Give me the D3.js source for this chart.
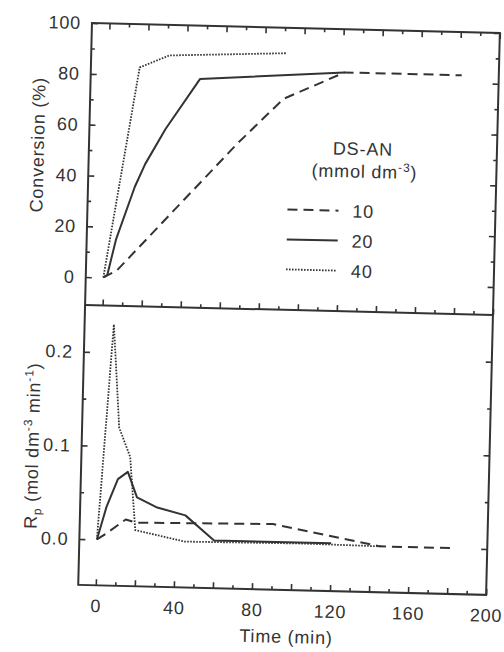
<!DOCTYPE html>
<html><head><meta charset="utf-8">
<script src="https://cdn.jsdelivr.net/npm/d3@7"></script>
<style>
body{margin:0;background:#fff}
svg{display:block}
text{font-family:"Liberation Sans",Arial,Helvetica,sans-serif;fill:#333;letter-spacing:0.8px}
</style>
</head><body>
<svg id="c" width="504" height="652"></svg>
<script>
// ---- data (time in min) ----
const seriesNames = ["10", "20", "40"];          // DS-AN (mmol dm-3)
const legendTitle = "DS-AN";
const conv10Time = [0, 7, 67, 90, 121, 181];
const conv10     = [0, 3, 54, 72, 83, 83];
const conv20Time = [0, 2, 6, 15, 20, 30, 47, 121];
const conv20     = [0, 1, 15, 36, 45, 59, 79, 83];
const conv40Time = [0, 16, 31, 91];
const conv40     = [0, 83, 88, 90];
const rp10Time = [0, 5, 14.5, 20, 90, 145, 181];
const rp10     = [0, 0.007, 0.022, 0.019, 0.021, 0, 0];
const rp20Time = [0, 4.5, 10, 15, 20, 30, 45, 60, 120];
const rp20     = [0, 0.035, 0.065, 0.073, 0.046, 0.036, 0.028, 0.002, 0.002];
const rp40Time = [0, 6, 10, 16, 19.5, 45, 106, 146];
const rp40     = [0, 0.23, 0.12, 0.089, 0.011, 0, 0.001, 0];
const xTicks = [0, 20, 40, 60, 80, 100, 120, 140, 160, 180, 200];
const xMinor = [10, 30, 50, 70, 90, 110, 130, 150, 170, 190];
const xLabels = [0, 40, 80, 120, 160, 200];
const convTicks = [0, 20, 40, 60, 80, 100];
const convMinor = [10, 30, 50, 70, 90];
const rpTicks = [0, 0.1, 0.2];
const rpMinor = [0.05, 0.15];

// ---- layout ----
const L = 85, R = 493, T = 27, M = 309, B = 589;
const ink = "#333";
const svg = d3.select("#c");
const g = svg.append("g").attr("transform", "rotate(1.4 250 310)");

const x = d3.scaleLinear().domain([-9, 200]).range([L, R]);
const yC = d3.scaleLinear().domain([-11, 100]).range([M, T]);
const yR = d3.scaleLinear().domain([-0.049, 0.25]).range([B, M]);

function styleAxis(sel) {
  sel.select(".domain").remove();
  sel.attr("font-family", null).attr("font-size", 18);
  sel.selectAll("line").attr("stroke", ink).attr("stroke-width", 1.6);
  sel.selectAll("text").attr("fill", ink);
}
function addAxis(axis, tx, ty) {
  g.append("g").attr("transform", `translate(${tx},${ty})`).call(axis).call(styleAxis);
}
const none = () => "";

// x ticks on frames
[[d3.axisTop, T], [d3.axisBottom, M], [d3.axisBottom, B]].forEach(([fn, yy]) => {
  addAxis(fn(x).tickValues(xTicks).tickSize(-6).tickFormat(none), 0, yy);
  addAxis(fn(x).tickValues(xMinor).tickSize(-3.5).tickFormat(none), 0, yy);
});
// x labels
addAxis(d3.axisBottom(x).tickValues(xLabels).tickSize(0).tickPadding(14).tickFormat(d3.format("d")), 0, B);

// y ticks, top panel
addAxis(d3.axisLeft(yC).tickValues(convTicks).tickSize(-6).tickPadding(11).tickFormat(d3.format("d")), L, 0);
addAxis(d3.axisLeft(yC).tickValues(convMinor).tickSize(-3.5).tickFormat(none), L, 0);
addAxis(d3.axisRight(yC).tickValues(convTicks).tickSize(-6).tickFormat(none), R, 0);
addAxis(d3.axisRight(yC).tickValues(convMinor).tickSize(-3.5).tickFormat(none), R, 0);
// y ticks, bottom panel
addAxis(d3.axisLeft(yR).tickValues(rpTicks).tickSize(-6).tickPadding(11).tickFormat(d3.format(".1f")), L, 0);
addAxis(d3.axisLeft(yR).tickValues(rpMinor).tickSize(-3.5).tickFormat(none), L, 0);
addAxis(d3.axisRight(yR).tickValues(rpTicks).tickSize(-6).tickFormat(none), R, 0);
addAxis(d3.axisRight(yR).tickValues(rpMinor).tickSize(-3.5).tickFormat(none), R, 0);

// frames
g.append("rect").attr("x", L).attr("y", T).attr("width", R - L).attr("height", B - T)
  .attr("fill", "none").attr("stroke", ink).attr("stroke-width", 2);
g.append("line").attr("x1", L).attr("x2", R).attr("y1", M).attr("y2", M)
  .attr("stroke", ink).attr("stroke-width", 2);

// series styles
const dashes = { "10": "10,6", "20": null, "40": "1.6,1.4" };
const widths = { "10": 2, "20": 2, "40": 1.8 };

const convSets = [[conv10Time, conv10], [conv20Time, conv20], [conv40Time, conv40]];
const rpSets = [[rp10Time, rp10], [rp20Time, rp20], [rp40Time, rp40]];

function draw(sets, yScale) {
  sets.forEach(([ts, vs], i) => {
    const name = seriesNames[i];
    const pts = ts.map((t, k) => [t, vs[k]]);
    g.append("path").datum(pts)
      .attr("fill", "none").attr("stroke", ink)
      .attr("stroke-width", widths[name])
      .attr("stroke-dasharray", dashes[name])
      .attr("stroke-linejoin", "round")
      .attr("d", d3.line().x(d => x(d[0])).y(d => yScale(d[1])));
  });
}
draw(convSets, yC);
draw(rpSets, yR);

// axis titles
g.append("text").attr("transform", "translate(40,150) rotate(-90)")
  .attr("text-anchor", "middle").attr("font-size", 18).text("Conversion (%)");

const rpT = g.append("text").attr("transform", "translate(42,451) rotate(-90)")
  .attr("text-anchor", "middle").attr("font-size", 18);
rpT.append("tspan").text("R");
rpT.append("tspan").attr("font-size", 12).attr("dy", 4).text("p");
rpT.append("tspan").attr("dy", -4).text(" (mol dm");
rpT.append("tspan").attr("font-size", 12).attr("dy", -7).text("-3");
rpT.append("tspan").attr("dy", 7).text(" min");
rpT.append("tspan").attr("font-size", 12).attr("dy", -7).text("-1");
rpT.append("tspan").attr("dy", 7).text(")");

g.append("text").attr("x", 294).attr("y", 642).attr("text-anchor", "middle")
  .attr("font-size", 18).text("Time (min)");

// legend
g.append("text").attr("x", 359).attr("y", 152.5).attr("text-anchor", "middle")
  .attr("font-size", 18).text(legendTitle);
const lt = g.append("text").attr("x", 361).attr("y", 175).attr("text-anchor", "middle").attr("font-size", 18);
lt.append("tspan").text("(mmol dm");
lt.append("tspan").attr("font-size", 12).attr("dy", -7).text("-3");
lt.append("tspan").attr("dy", 7).text(")");

seriesNames.forEach((name, i) => {
  const ly = 208.5 + i * 30;
  g.append("line").attr("x1", 285).attr("x2", 336).attr("y1", ly).attr("y2", ly)
    .attr("stroke", ink).attr("stroke-width", widths[name])
    .attr("stroke-dasharray", dashes[name]);
  g.append("text").attr("x", 350).attr("y", ly + 6.5).attr("font-size", 18).text(name);
});
</script>
</body></html>
